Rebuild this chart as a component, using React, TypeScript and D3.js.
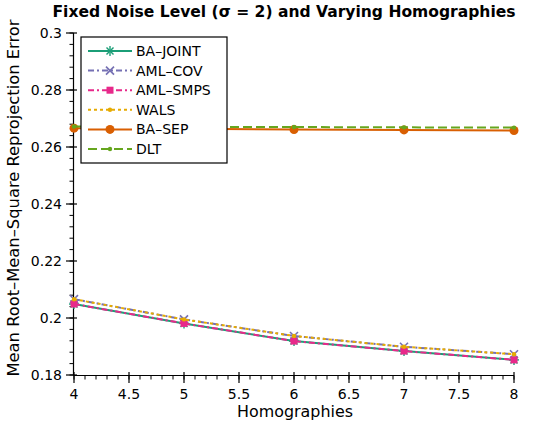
import React from "react";
import * as d3 from "d3";

const homographies = [4, 5, 6, 7, 8];
const baJoint = [0.2049, 0.1981, 0.1919, 0.1884, 0.1853];
const amlCov = [0.2066, 0.1995, 0.1937, 0.1899, 0.1873];
const amlSmps = [0.2049, 0.1981, 0.1919, 0.1884, 0.1853];
const wals = [0.2066, 0.1995, 0.1937, 0.1899, 0.1873];
const baSep = [0.2666, 0.2664, 0.2661, 0.266, 0.2658];
const dlt = [0.2672, 0.2671, 0.2670, 0.2669, 0.2668];
const xTicks = [4, 4.5, 5, 5.5, 6, 6.5, 7, 7.5, 8];
const yTicks = [0.18, 0.2, 0.22, 0.24, 0.26, 0.28, 0.3];

type Series = { name: string; values: number[]; color: string; dash: string; marker: string; width: number };
const series: Series[] = [
  { name: "BA\u2013JOINT", values: baJoint, color: "#1b9e77", dash: "", marker: "star", width: 2 },
  { name: "AML\u2013COV", values: amlCov, color: "#7570b3", dash: "6,3,2,3", marker: "x", width: 2 },
  { name: "AML\u2013SMPS", values: amlSmps, color: "#e7298a", dash: "6,3,2,3", marker: "square", width: 2 },
  { name: "WALS", values: wals, color: "#e6ab02", dash: "3,3", marker: "dot", width: 2 },
  { name: "BA\u2013SEP", values: baSep, color: "#d95f02", dash: "", marker: "circle", width: 2 },
  { name: "DLT", values: dlt, color: "#66a61e", dash: "9,4", marker: "dot", width: 2 },
];

const FONT = "'DejaVu Sans', 'Liberation Sans', sans-serif";

function Marker({ type, x, y, color }: { type: string; x: number; y: number; color: string }) {
  if (type === "star") {
    const r = 5;
    return (
      <g stroke={color} strokeWidth={1.4}>
        <line x1={x - r} y1={y} x2={x + r} y2={y} />
        <line x1={x} y1={y - r} x2={x} y2={y + r} />
        <line x1={x - r * 0.7} y1={y - r * 0.7} x2={x + r * 0.7} y2={y + r * 0.7} />
        <line x1={x - r * 0.7} y1={y + r * 0.7} x2={x + r * 0.7} y2={y - r * 0.7} />
      </g>
    );
  }
  if (type === "x") {
    const r = 4;
    return (
      <g stroke={color} strokeWidth={1.6}>
        <line x1={x - r} y1={y - r} x2={x + r} y2={y + r} />
        <line x1={x - r} y1={y + r} x2={x + r} y2={y - r} />
      </g>
    );
  }
  if (type === "square") return <rect x={x - 3.5} y={y - 3.5} width={7} height={7} fill={color} />;
  if (type === "circle") return <circle cx={x} cy={y} r={4.5} fill={color} />;
  return <circle cx={x} cy={y} r={2.2} fill={color} />;
}

export default function App() {
  const W = 537, H = 428;
  const x = d3.scaleLinear().domain([4, 8]).range([74, 514]);
  const y = d3.scaleLinear().domain([0.18, 0.3]).range([375, 33]);
  const line = d3.line<[number, number]>().x(d => x(d[0])).y(d => y(d[1]));
  const xMinor = d3.range(40, 81).map(v => v / 10);
  const yMinor = d3.range(45, 76).map(v => v * 0.004);
  const lx = 81, ly = 37, lw = 146, lh = 126;
  return (
    <svg width={W} height={H} style={{ position: "absolute", left: 0, top: 0, background: "#fff" }} fontFamily={FONT}>
      <text x={284} y={17} textAnchor="middle" fontSize={15} fontWeight="bold" textLength={463} lengthAdjust="spacingAndGlyphs">Fixed Noise Level (σ = 2) and Varying Homographies</text>
      {/* axes */}
      <line x1={73.5} y1={y(0.3)} x2={73.5} y2={375.5} stroke="#000" strokeWidth={1.2} />
      <line x1={73.5} y1={375.5} x2={x(8)} y2={375.5} stroke="#000" strokeWidth={1.2} />
      {yMinor.map((v, i) => (
        <line key={"ym" + i} x1={69.5} x2={73.5} y1={y(v)} y2={y(v)} stroke="#000" strokeWidth={1} />
      ))}
      {yTicks.map((v, i) => (
        <g key={"y" + i}>
          <line x1={66} x2={77} y1={y(v)} y2={y(v)} stroke="#000" strokeWidth={1.2} />
          <text x={62} y={y(v) + 5} textAnchor="end" fontSize={14}>{d3.format("")(+v.toFixed(2))}</text>
        </g>
      ))}
      {xMinor.map((v, i) => (
        <line key={"xm" + i} x1={x(v)} x2={x(v)} y1={375.5} y2={379.5} stroke="#000" strokeWidth={1} />
      ))}
      {xTicks.map((v, i) => (
        <g key={"x" + i}>
          <line x1={x(v)} x2={x(v)} y1={372} y2={383} stroke="#000" strokeWidth={1.2} />
          <text x={x(v)} y={399} textAnchor="middle" fontSize={14}>{v}</text>
        </g>
      ))}
      <text x={295} y={417} textAnchor="middle" fontSize={15} textLength={116} lengthAdjust="spacingAndGlyphs">Homographies</text>
      <text transform={`translate(19,198) rotate(-90)`} textAnchor="middle" fontSize={15} textLength={357} lengthAdjust="spacingAndGlyphs">Mean Root–Mean–Square Reprojection Error</text>
      {/* series */}
      {series.map(s => {
        const pts = homographies.map((h, i) => [h, s.values[i]] as [number, number]);
        return (
          <g key={s.name}>
            <path d={line(pts) || ""} fill="none" stroke={s.color} strokeWidth={s.width} strokeDasharray={s.dash} />
            {pts.map((p, i) => <Marker key={i} type={s.marker} x={x(p[0])} y={y(p[1])} color={s.color} />)}
          </g>
        );
      })}
      {/* legend */}
      <rect x={lx} y={ly} width={lw} height={lh} fill="#fff" stroke="#000" strokeWidth={1.2} />
      {series.map((s, i) => {
        const yy = 51 + i * 19.6;
        return (
          <g key={"lg" + i}>
            <line x1={88} x2={132} y1={yy} y2={yy} stroke={s.color} strokeWidth={s.width} strokeDasharray={s.dash} />
            <Marker type={s.marker} x={110} y={yy} color={s.color} />
            <text x={136} y={yy + 5} fontSize={14}>{s.name}</text>
          </g>
        );
      })}
    </svg>
  );
}
